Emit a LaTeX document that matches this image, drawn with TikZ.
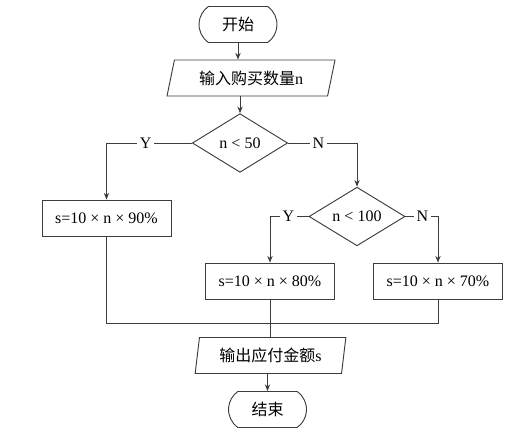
\documentclass[tikz,border=0pt]{standalone}
\usepackage{fontspec}
\setmainfont{Liberation Serif}
\newfontfamily\cjk{Noto Sans CJK SC}
\usetikzlibrary{shapes.geometric,shapes.misc,arrows.meta}
\definecolor{linegray}{RGB}{60,60,60}
\begin{document}
\begin{tikzpicture}[x=0.75pt,y=-0.75pt,
    every node/.style={font=\fontsize{12}{14}\selectfont},
    flow/.style={draw=linegray,line width=0.7pt},
    arr/.style={-{Stealth[length=5pt,width=4pt]}},
    terminal/.style={flow,rounded rectangle,rounded rectangle arc length=110,
      minimum width=58.5pt,minimum height=27pt,inner sep=0pt},
    io/.style={flow,trapezium,trapezium stretches body,minimum height=27pt,inner sep=0pt},
    process/.style={flow,rectangle,minimum width=96.75pt,minimum height=27pt,inner sep=0pt},
    decision/.style={flow,diamond,shape aspect=2,minimum width=71.5pt,minimum height=44pt,inner sep=0pt},
    branch/.style={fill=white,inner sep=2pt}]
  \useasboundingbox (0,0) rectangle (516,434);

  \node[terminal] (B) at (238,24.5) {{\cjk 开始}};
  \node[io,trapezium left angle=63.4,trapezium right angle=116.6,
        minimum width=126pt] (I) at (251,78) {{\cjk 输入购买数量}n};
  \node[decision] (D1) at (240,143) {n < 50};
  \node[process] (P1) at (106.5,218) {s=10 × n × 90\%};
  \node[decision,minimum width=72pt] (D2) at (357,216.5) {n < 100};
  \node[process] (P2) at (270,281) {s=10 × n × 80\%};
  \node[process] (P3) at (438,281) {s=10 × n × 70\%};
  \node[io,trapezium left angle=74,trapezium right angle=106,
        minimum width=113pt] (O) at (270.5,355.5) {{\cjk 输出应付金额}s};
  \node[terminal] (E) at (267.5,409.5) {{\cjk 结束}};
  \coordinate (J) at (0,323);

  \draw[flow,arr] (B.south) -- (B.south |- I.north);
  \draw[flow,arr] (D1.north |- I.south) -- (D1.north);
  \draw[flow,arr] (D1.west) -| node[branch,pos=0.27] {Y} (P1.north);
  \draw[flow,arr] (D1.east) -| node[branch,pos=0.22] {N} (D2.north);
  \draw[flow,arr] (D2.west) -| node[branch,pos=0.26] {Y} (P2.north);
  \draw[flow,arr] (D2.east) -| node[branch,pos=0.26] {N} (P3.north);
  \draw[flow] (P1.south) |- (J -| P3.south) -- (P3.south);
  \draw[flow] (P2.south) -- (P2.south |- O.north);
  \draw[flow,arr] (E.north |- O.south) -- (E.north);
\end{tikzpicture}
\end{document}
